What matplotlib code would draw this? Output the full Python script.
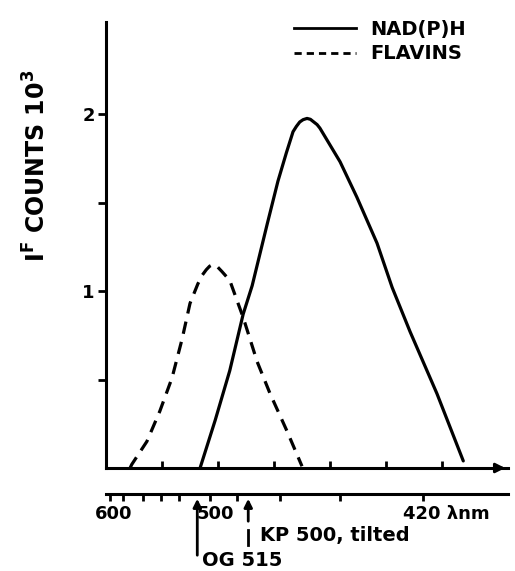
import matplotlib
matplotlib.use("Agg")
import matplotlib.pyplot as plt
from matplotlib.lines import Line2D

plt.rcParams['font.family'] = ['DejaVu Sans']
plt.rcParams['font.weight'] = 'bold'
plt.rcParams['mathtext.default'] = 'bf'

# ---- data (x in arbitrary plotting units along the spectral axis, y in 10^3 counts)
nadph_x = [1.68, 1.95, 2.21, 2.45, 2.61, 2.88, 3.07, 3.22, 3.29, 3.34, 3.40, 3.46, 3.52,
           3.59, 3.65, 3.71, 3.77, 3.82, 4.18, 4.48, 4.84, 5.11, 5.43, 5.91, 6.38]
nadph_y = [0.00, 0.27, 0.55, 0.87, 1.03, 1.38, 1.62, 1.78, 1.85, 1.90, 1.93, 1.955, 1.968,
           1.975, 1.97, 1.955, 1.94, 1.92, 1.73, 1.53, 1.27, 1.02, 0.77, 0.42, 0.04]

flavin_x = [0.43, 0.46, 0.73, 0.96, 1.18, 1.36, 1.50, 1.64, 1.72, 1.79, 1.85, 1.91, 1.98,
            2.07, 2.21, 2.45, 2.70, 2.93, 3.23, 3.50]
flavin_y = [0.00, 0.02, 0.15, 0.32, 0.51, 0.73, 0.93, 1.04, 1.09, 1.12, 1.14, 1.15, 1.14,
            1.11, 1.06, 0.85, 0.60, 0.42, 0.21, 0.01]

series_labels = ["NAD(P)H", "FLAVINS"]

top_ticks = [1, 2, 3, 4, 5, 6]
y_ticks = [0.5, 1.0, 1.5, 2.0]
y_ticklabels = ["", "1", "", "2"]

# wavelength scale (lower ruler)
wl_ticks = [0.07, 0.30, 0.66, 0.98, 1.30, 1.86, 2.34, 3.11, 4.18, 5.66]
wl_label_pos = [0.14, 1.95, 5.30]
wl_labels = ["600", "500", "420 λnm"]

filter_pos = [1.63, 2.54]
filter_labels = ["OG 515", "KP 500, tilted"]

W, H = 515, 571
fig = plt.figure(figsize=(W / 100, H / 100), dpi=100)

L, R, T, B = 106, 508, 22, 468
ax = fig.add_axes([L / W, (H - B) / H, (R - L) / W, (B - T) / H])
ax.set_xlim(0, (R - L) / 56)
ax.set_ylim(0, (B - T) / 177)

lw = 2.3
ax.plot(nadph_x, nadph_y, color='black', lw=lw, solid_capstyle='round',
        solid_joinstyle='round', clip_on=False)
ax.plot(flavin_x, flavin_y, color='black', lw=lw, linestyle=(0, (3.9, 2.6)),
        dash_capstyle='butt', clip_on=False)

for s in ['top', 'right']:
    ax.spines[s].set_visible(False)
for s in ['left', 'bottom']:
    ax.spines[s].set_linewidth(2.2)

ax.set_yticks(y_ticks)
ax.set_yticklabels(y_ticklabels, fontsize=13, fontweight='bold')
ax.tick_params(axis='y', direction='out', length=6, width=2, pad=2)
ax.set_xticks(top_ticks)
ax.set_xticklabels([])
ax.tick_params(axis='x', direction='in', length=5, width=2)

# arrow at end of x-axis
ax.annotate('', xy=(1.0, 0), xytext=(0.97, 0), xycoords='axes fraction',
            arrowprops=dict(arrowstyle='-|>', color='black', lw=2, mutation_scale=14),
            annotation_clip=False)

ax.set_ylabel(r"I$^{F}$ COUNTS 10$^{3}$", fontsize=17, fontweight='bold')
ax.yaxis.set_label_coords((51 - L) / (R - L), (B - 166) / (B - T))

# legend
handles = [Line2D([], [], color='black', lw=2),
           Line2D([], [], color='black', lw=2, linestyle=(0, (2.6, 1.8)))]
leg = fig.legend(handles, series_labels, loc='upper left',
                 bbox_to_anchor=(276 / W, 1 - 2 / H), frameon=False,
                 handlelength=3.2, handletextpad=0.75, labelspacing=0.3,
                 prop=dict(size=14, weight='bold'))

# lower wavelength ruler
LB = 494
ax2 = fig.add_axes([L / W, 0, (R - L) / W, (H - LB) / H])
ax2.set_xlim(ax.get_xlim())
ax2.set_ylim(0, 1)
ax2.patch.set_visible(False)
for s in ['left', 'right', 'bottom']:
    ax2.spines[s].set_visible(False)
ax2.spines['top'].set_linewidth(2.2)
ax2.set_yticks([])
ax2.xaxis.set_ticks_position('top')
ax2.set_xticks(wl_ticks)
ax2.set_xticklabels([])
ax2.tick_params(axis='x', direction='in', length=5, width=2)

def fy(py):
    return (H - py) / (H - LB)

for xp, lab in zip(wl_label_pos, wl_labels):
    ha = 'left' if 'λ' in lab else 'center'
    ax2.text(xp, fy(514), lab, ha=ha, va='center', fontsize=13, fontweight='bold')

# filter arrows
ax2.annotate('', xy=(filter_pos[0], fy(496)), xytext=(filter_pos[0], fy(558)),
             arrowprops=dict(arrowstyle='-|>', color='black', lw=2, mutation_scale=12))
ax2.text(filter_pos[0] + 0.09, fy(560), filter_labels[0], ha='left', va='center',
         fontsize=14, fontweight='bold')
ax2.annotate('', xy=(filter_pos[1], fy(496)), xytext=(filter_pos[1], fy(524)),
             arrowprops=dict(arrowstyle='-|>', color='black', lw=2, mutation_scale=12))
ax2.plot([filter_pos[1], filter_pos[1]], [fy(530), fy(545)], color='black', lw=2)
ax2.text(filter_pos[1] + 0.21, fy(535), filter_labels[1], ha='left', va='center',
         fontsize=14, fontweight='bold')

fig.savefig('out.png', dpi=100)
